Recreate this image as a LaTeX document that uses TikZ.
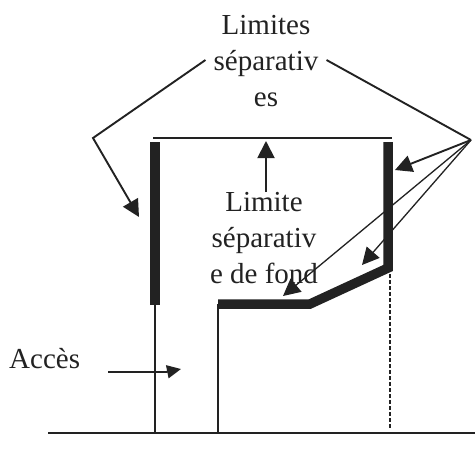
\documentclass[tikz,border=0pt]{standalone}
\usepackage{fontspec}
\setmainfont{Liberation Serif}
\usetikzlibrary{arrows.meta}
\definecolor{ink}{HTML}{222222}
\tikzset{
 thinline/.style={draw=ink,line width=1.9pt},
 hairline/.style={draw=ink,line width=1.3pt},
 thickline/.style={draw=ink,line width=9.5pt,line join=miter},
 tip/.style={-{Triangle[length=17pt,width=17pt]}},
 lbl/.style={text=ink,font=\fontsize{29}{36}\selectfont,align=center,inner ysep=0pt}
}
\begin{document}
\begin{tikzpicture}[x=1pt,y=-1pt]
\useasboundingbox (0,0) rectangle (475,467);
\fill[white] (0,0) rectangle (475,467);
% anchors
\coordinate (ll1) at (155,142);\coordinate (ll2) at (155,305);\coordinate (lg) at (155,433);
\coordinate (rr1) at (388,142);\coordinate (rr2) at (388,268);\coordinate (rk) at (310,304);\coordinate (rl) at (218,304);\coordinate (lg2) at (218,433);
\coordinate (dt) at (390,268);\coordinate (db) at (390,428);
\coordinate (g1) at (48,433);\coordinate (g2) at (475,433);
\coordinate (t1) at (153,138);\coordinate (t2) at (392,138);
\coordinate (up) at (266,141);
\coordinate (kl) at (93,138);\coordinate (al) at (139,217);
\coordinate (kr) at (471,140);\coordinate (a1) at (395,170);\coordinate (a2) at (362,265);\coordinate (a3) at (283,296);
\coordinate (ac1) at (108,372);\coordinate (ac3) at (166,372);\coordinate (ac2) at (181,369);
% text
\node[lbl,inner xsep=8pt] (lim) at (266,61) {Limites\\séparativ\\es};
\node[lbl,inner xsep=0pt] (fond) at (264,238) {Limite\\séparativ\\e de fond};
\node[lbl,inner xsep=0pt,anchor=base west] (acc) at (9,368) {Accès};
% walls
\draw[thinline] (ll2) -- (lg);
\draw[thinline] (rl) -- (lg2);
\draw[thinline] (g1) -- (g2);
\draw[thinline,dashed,dash pattern=on 4pt off 2pt] (dt) -- (db);
\draw[draw=ink,line width=2.4pt] (t1) -- (t2);
\draw[thickline] (ll1) -- (ll2);
\draw[thickline] (rr1) -- (rr2) -- (rk) -- (rl);
% leaders
\draw[thinline,tip] ([yshift=1pt]lim.west) -- (kl) -- (al);
\draw[thinline] ([yshift=1pt]lim.east) -- (kr);
\draw[thinline,tip] (kr) -- (a1);
\draw[hairline,tip] (kr) -- (a2);
\draw[hairline,tip] (kr) -- (a3);
\draw[thinline,tip] (fond.north -| up) -- (up);
\draw[thinline,-{Triangle[length=14pt,width=13pt]}] (ac1) -- (ac3) -- (ac2);
\end{tikzpicture}
\end{document}
